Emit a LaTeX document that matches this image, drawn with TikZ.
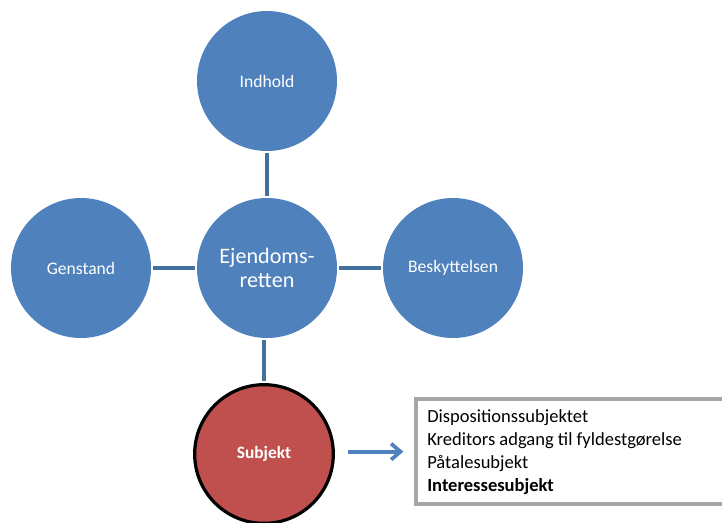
\documentclass[tikz,border=0pt]{standalone}
\usepackage{fontspec}
\setmainfont{Carlito}
\usetikzlibrary{arrows.meta}
\definecolor{cblue}{HTML}{4F81BD}
\definecolor{clink}{HTML}{41719C}
\definecolor{cred}{HTML}{C0504D}
\definecolor{cgray}{HTML}{A6A6A6}
\tikzset{
  bub/.style={circle, fill=cblue, minimum size=105pt, inner sep=0pt, text=white, font=\fontsize{13.2pt}{15pt}\selectfont, align=center},
  link/.style={draw=clink, line width=2.6pt, shorten <=1.5pt, shorten >=1.5pt},
}
\begin{document}
\begin{tikzpicture}[x=0.75pt,y=-0.75pt]
\useasboundingbox (0,0) rectangle (722,522);
\node[bub] (ind) at (267,81) {Indhold};
\node[bub, font=\fontsize{16.6pt}{18pt}\selectfont] (ctr) at (267,268) {Ejendoms-\\retten};
\node[bub] (gen) at (81,268) {Genstand};
\node[bub] (bes) at (453,268) {Beskyttelsen};
\node[bub, fill=cred, draw=black, line width=2.4pt, minimum size=104pt, font=\bfseries\fontsize{13pt}{15pt}\selectfont] (subj) at (264,454) {Subjekt};
\draw[link] (ind) -- (ctr);
\draw[link] (gen) -- (ctr);
\draw[link] (ctr) -- (bes);
\draw[link] (subj.north |- ctr.south) -- (subj.north);
\node[draw=cgray, line width=3pt, fill=white, minimum width=240pt, minimum height=79pt, inner sep=0pt, anchor=north west] (box) at (414,397) {};
\node[anchor=north west, align=left, inner sep=0pt, font=\fontsize{13.9pt}{17.25pt}\selectfont] (txt) at (427,409) {Dispositionssubjektet\\Kreditors adgang til fyldestgørelse\\Påtalesubjekt\\\textbf{Interessesubjekt}};
\draw[draw=cblue, line width=2.8pt, -{Straight Barb[length=7pt,width=12pt]}] (subj.east |- box.west) ++(13,0) -- ([xshift=-8]box.west);
\end{tikzpicture}
\end{document}
